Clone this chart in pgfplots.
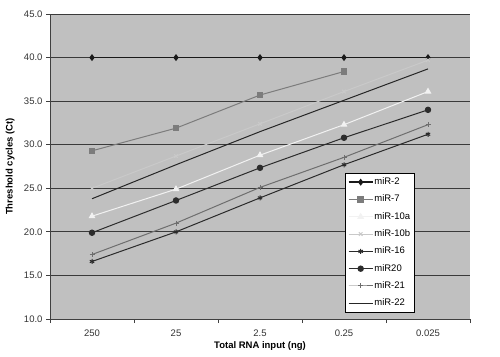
\documentclass[border=0pt]{standalone}
\usepackage{pgfplots}
\pgfplotsset{compat=1.18}
\usepackage{fontspec}
\setmainfont{Liberation Sans}
\definecolor{bg}{HTML}{C0C0C0}
\definecolor{gridc}{HTML}{3A3A3A}
\definecolor{cA}{HTML}{1A1A1A}
\definecolor{cB}{HTML}{7C7C7C}
\definecolor{cC}{HTML}{F2F2F2}
\definecolor{cD}{HTML}{C9C9C9}
\definecolor{cE}{HTML}{2A2A2A}
\definecolor{cF}{HTML}{2C2C2C}
\definecolor{cG}{HTML}{6E6E6E}
\definecolor{cH}{HTML}{262626}
\begin{document}
\begin{tikzpicture}
\begin{axis}[
  scale only axis, width=420pt, height=305pt,
  xmin=-0.5, xmax=4.5, ymin=10, ymax=45,
  axis background/.style={fill=bg},
  axis lines*=left,
  axis line style={-, draw=black!75, line width=0.8pt},
  xtick={0,...,4}, xticklabels={250,25,2.5,0.25,0.025},
  major x tick style={draw=none},
  minor xtick={-0.5,0.5,1.5,2.5,3.5,4.5},
  minor tick length=4pt,
  minor x tick style={draw=black!75, line width=0.8pt},
  tick align=outside, major tick length=4pt,
  major y tick style={draw=black!75, line width=0.8pt},
  ytick={10,15,...,45},
  /pgf/number format/assume math mode=true,
  yticklabel style={/pgf/number format/.cd, fixed, fixed zerofill, precision=1},
  xticklabel style={yshift=-3pt},
  ticklabel style={font=\fontsize{9.5}{11}\selectfont, text=black!80},
  ymajorgrids, major grid style={draw=gridc, line width=1pt},
  xlabel={\textbf{Total RNA input (ng)}},
  ylabel={\textbf{Threshold cycles (Ct)}},
  label style={font=\fontsize{9.5}{11}\selectfont},
  xlabel style={at={(axis description cs:0.5,0)}, anchor=center, yshift=-27pt},
  ylabel style={at={(axis description cs:-0.095,0.5)}, anchor=center},
  legend style={at={(0.702,0.023)}, anchor=south west, draw=black, fill=white,
    font=\fontsize{9.5}{11}\selectfont, row sep=6.3pt, inner sep=3pt,
    nodes={inner sep=1pt, text height=7pt, text depth=2pt}},
  legend cell align=left,
  legend image code/.code={\draw[mark repeat=2,mark phase=2] plot coordinates {(0cm,0cm)(0.42cm,0cm)(0.84cm,0cm)};},
]
\addplot[cA, line width=1.4pt, mark=diamond*, mark size=2.4pt] coordinates {(0,40)(1,40)(2,40)(3,40)(4,40)};
\addlegendentry{miR-2}
\addplot[cB, line width=1pt, mark=square*, mark size=2.8pt] coordinates {(0,29.3)(1,31.9)(2,35.7)(3,38.4)};
\addlegendentry{miR-7}
\addplot[cC, line width=1pt, mark=triangle*, mark size=3pt] coordinates {(0,21.8)(1,24.9)(2,28.8)(3,32.3)(4,36.1)};
\addlegendentry{miR-10a}
\addplot[cD, line width=1pt, mark=x, mark size=2.5pt] coordinates {(0,25.0)(1,28.7)(2,32.4)(3,36.1)(4,39.7)};
\addlegendentry{miR-10b}
\addplot[cE, line width=1pt, mark=asterisk, mark size=2.5pt] coordinates {(0,16.6)(1,20.0)(2,23.9)(3,27.7)(4,31.2)};
\addlegendentry{miR-16}
\addplot[cF, line width=1pt, mark=*, mark size=2.7pt] coordinates {(0,19.9)(1,23.6)(2,27.35)(3,30.8)(4,34.0)};
\addlegendentry{miR20}
\addplot[cG, line width=1pt, mark=+, mark size=2.5pt] coordinates {(0,17.4)(1,21.0)(2,25.1)(3,28.55)(4,32.3)};
\addlegendentry{miR-21}
\addplot[cH, line width=1pt] coordinates {(0,23.8)(1,27.7)(2,31.5)(3,35.1)(4,38.7)};
\addlegendentry{miR-22}
\end{axis}
\pgfresetboundingbox
\path (-50pt,-37pt) rectangle (450pt,319pt);
\end{tikzpicture}
\end{document}
